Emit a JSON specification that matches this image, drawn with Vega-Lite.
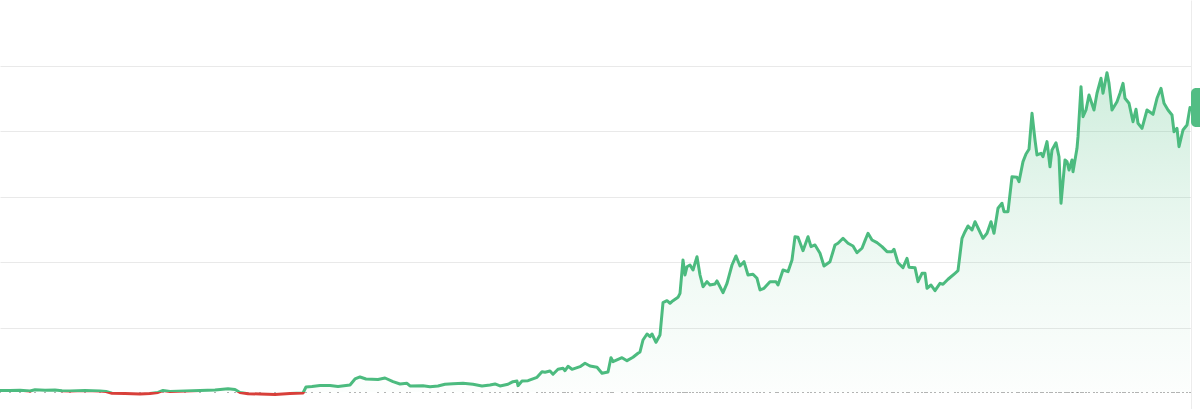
{
  "$schema": "https://vega.github.io/schema/vega-lite/v6.json",
  "width": 1191,
  "height": 409,
  "autosize": "none",
  "padding": {"left": 0, "top": 0, "right": 9, "bottom": 0},
  "background": "white",
  "config": {"view": {"stroke": null}},
  "data": {"values": [
    {"t":0,"v":3.8},{"t":10,"v":3.8},{"t":20,"v":4.3},{"t":30,"v":3.1},{"t":35,"v":4.9},{"t":45,"v":4.1},{"t":55,"v":4.6},{"t":62,"v":3.4},{"t":70,"v":3.1},{"t":85,"v":3.8},
    {"t":100,"v":3.1},{"t":106,"v":2.3},{"t":112,"v":-0.5},{"t":125,"v":-0.8},{"t":140,"v":-1.5},{"t":150,"v":-0.8},{"t":158,"v":0.8},{"t":163,"v":3.8},{"t":170,"v":2.3},{"t":185,"v":3.1},
    {"t":200,"v":3.8},{"t":215,"v":4.6},{"t":228,"v":6.4},{"t":235,"v":5.4},{"t":240,"v":0.8},{"t":248,"v":-1.2},{"t":260,"v":-1.5},{"t":275,"v":-2.3},{"t":290,"v":-0.8},{"t":303,"v":0},
    {"t":306,"v":9.2},{"t":312,"v":9.9},{"t":320,"v":11.5},{"t":330,"v":11.5},{"t":338,"v":9.9},{"t":350,"v":12.2},{"t":355,"v":21.4},{"t":360,"v":24.5},{"t":366,"v":21.4},{"t":378,"v":20.6},
    {"t":385,"v":22.9},{"t":393,"v":17.3},{"t":400,"v":13.8},{"t":407,"v":14.8},{"t":410,"v":10.7},{"t":423,"v":11.2},{"t":430,"v":9.6},{"t":438,"v":10.7},{"t":445,"v":13.3},{"t":453,"v":14.2},
    {"t":463,"v":14.8},{"t":473,"v":13.3},{"t":482,"v":10.7},{"t":490,"v":12.2},{"t":495,"v":13.8},{"t":500,"v":10.7},{"t":508,"v":13.3},{"t":513,"v":17.3},{"t":517,"v":18.3},{"t":518,"v":11.2},
    {"t":522,"v":18.3},{"t":528,"v":18.8},{"t":537,"v":24.0},{"t":542,"v":32.6},{"t":545,"v":31.7},{"t":550,"v":33.6},{"t":553,"v":28.6},{"t":558,"v":36.2},{"t":563,"v":37.8},{"t":565,"v":34.1},
    {"t":568,"v":40.8},{"t":572,"v":36.2},{"t":580,"v":40.2},{"t":585,"v":45.4},{"t":590,"v":41.3},{"t":597,"v":39.3},{"t":602,"v":30.1},{"t":608,"v":32.1},{"t":611,"v":54.0},{"t":613,"v":47.9},
    {"t":622,"v":54.0},{"t":627,"v":49.4},{"t":633,"v":54.6},{"t":638,"v":60.7},{"t":640,"v":62.7},{"t":643,"v":81.0},{"t":647,"v":90.2},{"t":650,"v":86.1},{"t":652,"v":90.2},{"t":656,"v":77.5},
    {"t":660,"v":88.7},{"t":663,"v":138.1},{"t":667,"v":141.1},{"t":670,"v":137.2},{"t":673,"v":141.1},{"t":678,"v":146.3},{"t":680,"v":152.4},{"t":683,"v":203.4},{"t":685,"v":180.4},{"t":687,"v":193.1},
    {"t":690,"v":195.7},{"t":693,"v":188.1},{"t":697,"v":208.4},{"t":700,"v":180.4},{"t":703,"v":162.5},{"t":707,"v":170.2},{"t":710,"v":165.1},{"t":715,"v":166.7},{"t":717,"v":171.3},{"t":720,"v":162.5},
    {"t":723,"v":153.4},{"t":727,"v":167.7},{"t":732,"v":195.7},{"t":736,"v":209.5},{"t":740,"v":194.2},{"t":744,"v":200.8},{"t":748,"v":180.4},{"t":753,"v":181.5},{"t":757,"v":175.4},{"t":760,"v":157.5},
    {"t":764,"v":160.1},{"t":770,"v":170.2},{"t":776,"v":170.2},{"t":778,"v":165.1},{"t":783,"v":188.1},{"t":788,"v":185.5},{"t":792,"v":203.4},{"t":795,"v":239.0},{"t":798,"v":238.1},{"t":803,"v":217.6},
    {"t":808,"v":239.0},{"t":811,"v":223.7},{"t":815,"v":226.3},{"t":820,"v":213.6},{"t":824,"v":194.2},{"t":830,"v":200.8},{"t":835,"v":226.3},{"t":838,"v":228.9},{"t":843,"v":236.5},{"t":848,"v":228.9},
    {"t":853,"v":224.8},{"t":857,"v":214.5},{"t":862,"v":221.3},{"t":865,"v":232.9},{"t":868,"v":244.2},{"t":872,"v":233.9},{"t":877,"v":229.8},{"t":882,"v":223.7},{"t":887,"v":216.1},{"t":892,"v":216.1},
    {"t":894,"v":219.7},{"t":898,"v":199.2},{"t":903,"v":191.6},{"t":907,"v":206.0},{"t":909,"v":192.2},{"t":915,"v":191.6},{"t":918,"v":170.2},{"t":922,"v":183.0},{"t":925,"v":183.0},{"t":927,"v":160.1},
    {"t":931,"v":165.1},{"t":935,"v":156.4},{"t":940,"v":167.7},{"t":943,"v":166.2},{"t":948,"v":173.9},{"t":955,"v":183.0},{"t":958,"v":187.0},{"t":962,"v":236.5},{"t":965,"v":246.6},{"t":968,"v":255.4},
    {"t":972,"v":249.2},{"t":975,"v":261.9},{"t":979,"v":249.2},{"t":983,"v":236.5},{"t":987,"v":244.2},{"t":991,"v":261.9},{"t":994,"v":244.2},{"t":998,"v":282.4},{"t":1002,"v":290.1},{"t":1004,"v":277.2},
    {"t":1008,"v":277.2},{"t":1012,"v":330.7},{"t":1017,"v":329.8},{"t":1019,"v":323.1},{"t":1023,"v":353.7},{"t":1026,"v":365.4},{"t":1029,"v":372.6},{"t":1032,"v":427.7},{"t":1035,"v":386.8},{"t":1037,"v":363.9},
    {"t":1041,"v":366.5},{"t":1043,"v":361.3},{"t":1047,"v":384.3},{"t":1050,"v":346.0},{"t":1052,"v":371.6},{"t":1056,"v":382.7},{"t":1059,"v":361.3},{"t":1061,"v":290.1},{"t":1065,"v":356.3},{"t":1067,"v":353.7},
    {"t":1069,"v":341.0},{"t":1072,"v":356.3},{"t":1073,"v":338.4},{"t":1077,"v":374.2},{"t":1078,"v":391.9},{"t":1081,"v":468.3},{"t":1083,"v":422.5},{"t":1086,"v":432.7},{"t":1089,"v":455.7},{"t":1094,"v":432.7},
    {"t":1097,"v":458.3},{"t":1101,"v":481.2},{"t":1103,"v":458.3},{"t":1107,"v":489.8},{"t":1109,"v":473.5},{"t":1112,"v":432.7},{"t":1117,"v":445.4},{"t":1120,"v":458.3},{"t":1123,"v":473.5},{"t":1125,"v":450.6},
    {"t":1129,"v":443.0},{"t":1133,"v":414.8},{"t":1136,"v":433.8},{"t":1138,"v":412.4},{"t":1142,"v":404.7},{"t":1147,"v":432.7},{"t":1153,"v":426.1},{"t":1157,"v":450.6},{"t":1161,"v":465.9},{"t":1164,"v":443.0},
    {"t":1168,"v":432.7},{"t":1172,"v":425.1},{"t":1174,"v":399.5},{"t":1177,"v":404.7},{"t":1179,"v":376.6},{"t":1183,"v":402.1},{"t":1187,"v":409.8},{"t":1190,"v":436.5}
  ]},
  "encoding": {
    "x": {"field": "t", "type": "quantitative", "scale": {"domain": [0, 1191], "nice": false, "zero": false}, "axis": null}
  },
  "layer": [
    {
      "mark": {
        "type": "area",
        "opacity": 1,
        "fill": {
          "gradient": "linear", "x1": 0, "y1": 0, "x2": 0, "y2": 1,
          "stops": [
            {"offset": 0, "color": "rgba(77,189,128,0.27)"},
            {"offset": 0.4, "color": "rgba(77,189,128,0.14)"},
            {"offset": 0.66, "color": "rgba(77,189,128,0.075)"},
            {"offset": 1, "color": "rgba(77,189,128,0.015)"}
          ]
        }
      },
      "encoding": {
        "y": {
          "field": "v", "type": "quantitative",
          "scale": {"domain": [-24.5, 600.9], "nice": false, "zero": false},
          "axis": {"orient": "right", "values": [100, 200, 300, 400, 500], "grid": true, "gridColor": "#e9e9e9", "gridWidth": 1, "labels": false, "ticks": false, "domain": true, "domainColor": "#ececec", "domainWidth": 1, "title": null}
        },
        "y2": {"datum": 1.1}
      }
    },
    {
      "mark": {"type": "rule", "strokeDash": [1.5, 6], "color": "#666666", "strokeWidth": 1.3},
      "encoding": {"y": {"datum": 1.1}}
    },
    {
      "mark": {
        "type": "line", "strokeWidth": 3, "strokeJoin": "round", "strokeCap": "round",
        "stroke": {
          "gradient": "linear", "x1": 0, "y1": 0, "x2": 0, "y2": 1,
          "stops": [
            {"offset": 0, "color": "#4cbb7f"},
            {"offset": 0.99309, "color": "#4cbb7f"},
            {"offset": 0.99309, "color": "#d8403a"},
            {"offset": 1, "color": "#d8403a"}
          ]
        }
      },
      "encoding": {"y": {"field": "v", "type": "quantitative"}}
    },
    {
      "transform": [{"filter": "datum.t == 1190"}],
      "mark": {
        "type": "point", "filled": true, "opacity": 1, "fill": "#52bd84", "strokeWidth": 0, "size": 1600,
        "shape": "M0.3,-0.975H1.6V0.975H0.3A0.25,0.25,0,0,1,0.05,0.725V-0.725A0.25,0.25,0,0,1,0.3,-0.975Z"
      },
      "encoding": {"y": {"field": "v", "type": "quantitative"}}
    }
  ]
}
